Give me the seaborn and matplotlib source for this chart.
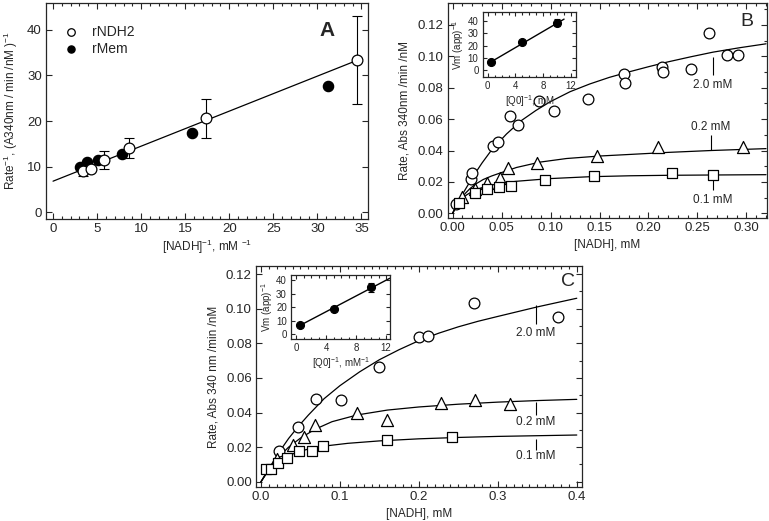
import numpy as np
import pandas as pd
import seaborn as sns
import matplotlib
matplotlib.use("Agg")
import matplotlib.pyplot as plt
from matplotlib.ticker import MultipleLocator, FormatStrFormatter

# ---- panel A : double reciprocal ----
a_ndh2_x = [3.41, 4.28, 5.76, 8.6, 17.32, 34.47]
a_ndh2_y = [9.08, 9.45, 11.43, 14.13, 20.59, 33.4]
a_ndh2_err = [1.1, 0.0, 2.0, 2.25, 4.35, 9.7]
a_mem_x = [3.03, 3.87, 5.11, 7.84, 15.72, 31.25]
a_mem_y = [9.96, 11.06, 11.43, 12.68, 17.3, 27.7]
a_fit_x = [0.0, 34.1]
a_fit_y = [6.8, 33.0]

# ---- panel B ----
b20_x = [0.003, 0.019, 0.020, 0.0414, 0.0459, 0.0585, 0.0663, 0.0881, 0.1034, 0.1384,
         0.1748, 0.1758, 0.2133, 0.2149, 0.2439, 0.2619, 0.280, 0.2915]
b20_y = [0.006, 0.0217, 0.0259, 0.0429, 0.0456, 0.062, 0.0563, 0.0716, 0.0654, 0.0727,
         0.0886, 0.0832, 0.093, 0.0902, 0.0918, 0.1147, 0.1009, 0.1009]
b02_x = [0.0092, 0.0228, 0.0347, 0.0483, 0.0568, 0.0864, 0.1476, 0.2098, 0.2965]
b02_y = [0.0106, 0.0153, 0.0195, 0.0223, 0.0287, 0.0319, 0.0365, 0.0425, 0.0421]
b01_x = [0.0068, 0.0228, 0.0353, 0.0476, 0.0592, 0.0942, 0.1442, 0.2235, 0.266]
b01_y = [0.0064, 0.0127, 0.0155, 0.0166, 0.0176, 0.0212, 0.024, 0.0255, 0.0246]

b20_fit_x = [0, 0.005, 0.01, 0.015, 0.02, 0.025, 0.03, 0.04, 0.055, 0.07, 0.085, 0.10, 0.12,
             0.14, 0.16, 0.18, 0.20, 0.22, 0.243, 0.266, 0.293, 0.32]
b20_fit_y = [0, 0.0062, 0.012, 0.0173, 0.0225, 0.0273, 0.032, 0.0405, 0.0505, 0.059, 0.0655,
             0.0712, 0.0775, 0.0824, 0.0866, 0.0901, 0.0934, 0.0965, 0.0997, 0.1027, 0.1055, 0.108]
b02_fit_x = [0, 0.004, 0.0085, 0.013, 0.0177, 0.024, 0.0312, 0.04, 0.0483, 0.0653, 0.0891,
             0.1163, 0.1503, 0.181, 0.22, 0.264, 0.32]
b02_fit_y = [0, 0.0048, 0.0090, 0.0127, 0.0157, 0.0188, 0.0215, 0.0238, 0.0256, 0.0292, 0.0326,
             0.0349, 0.0365, 0.0375, 0.0388, 0.0400, 0.0412]
b01_fit_x = [0, 0.0057, 0.01, 0.0143, 0.02, 0.0279, 0.036, 0.0449, 0.0653, 0.0993, 0.14, 0.181,
             0.22, 0.266, 0.32]
b01_fit_y = [0, 0.0064, 0.0095, 0.0117, 0.0139, 0.0159, 0.0174, 0.0187, 0.0204, 0.0221, 0.0233,
             0.0239, 0.0242, 0.0244, 0.0246]

bi_x = [0.5, 5.0, 10.0]
bi_y = [7.0, 22.5, 38.5]
bi_err = [0.0, 0.0, 3.0]
bi_fit_x = [0.5, 11.0]
bi_fit_y = [6.9, 41.3]

# ---- panel C ----
c20_x = [0.0228, 0.047, 0.0697, 0.1018, 0.149, 0.2, 0.211, 0.27, 0.376]
c20_y = [0.0177, 0.0314, 0.0476, 0.0472, 0.066, 0.0834, 0.0844, 0.1034, 0.0953]
c02_x = [0.02, 0.041, 0.0545, 0.068, 0.122, 0.159, 0.228, 0.271, 0.3155]
c02_y = [0.0132, 0.0213, 0.026, 0.0327, 0.0399, 0.0356, 0.0456, 0.0472, 0.0449]
c01_x = [0.0065, 0.0128, 0.0215, 0.033, 0.048, 0.065, 0.078, 0.159, 0.2415]
c01_y = [0.0073, 0.0073, 0.0106, 0.0135, 0.0175, 0.0179, 0.0208, 0.0241, 0.0256]

c20_fit_x = [0, 0.01, 0.0228, 0.035, 0.047, 0.06, 0.08, 0.1, 0.125, 0.15, 0.175, 0.2, 0.225,
             0.25, 0.275, 0.3, 0.35, 0.4]
c20_fit_y = [0, 0.0075, 0.017, 0.025, 0.0318, 0.0385, 0.048, 0.0555, 0.0635, 0.0705, 0.0763,
             0.0815, 0.0858, 0.0895, 0.0927, 0.0955, 0.101, 0.106]
c02_fit_x = [0, 0.01, 0.02, 0.035, 0.05, 0.068, 0.09, 0.122, 0.16, 0.2, 0.25, 0.3, 0.35, 0.4]
c02_fit_y = [0, 0.0075, 0.0132, 0.02, 0.0252, 0.0302, 0.0347, 0.0386, 0.0414, 0.0432, 0.0448,
             0.046, 0.0469, 0.0476]
c01_fit_x = [0, 0.01, 0.02, 0.03, 0.045, 0.06, 0.08, 0.11, 0.15, 0.2, 0.25, 0.3, 0.35, 0.4]
c01_fit_y = [0, 0.0068, 0.011, 0.014, 0.017, 0.0189, 0.0206, 0.0222, 0.0236, 0.0248, 0.0256,
             0.0262, 0.0266, 0.027]

ci_x = [0.5, 5.0, 10.0]
ci_y = [6.5, 18.5, 34.5]
ci_err = [0.0, 0.0, 3.0]
ci_fit_x = [0.5, 12.5]
ci_fit_y = [6.3, 41.3]

sns.set_style("ticks")
plt.rcParams['font.family'] = ['Liberation Sans', 'DejaVu Sans']
plt.rcParams['mathtext.default'] = 'regular'
plt.rcParams['axes.linewidth'] = 0.9

W, H = 769, 521
fig = plt.figure(figsize=(W / 100, H / 100), dpi=100)


def rect(l, t, r, b):
    return [l / W, 1 - b / H, (r - l) / W, (b - t) / H]


def style(ax, tsize=9.5):
    ax.tick_params(which='both', direction='in', top=True, right=True,
                   labelsize=tsize, width=0.8, pad=3)
    ax.tick_params(which='major', length=4)
    ax.tick_params(which='minor', length=2.2)


def curve(ax, x, y, lw=0.9):
    sns.lineplot(x=x, y=y, ax=ax, color='black', lw=lw, sort=False,
                 estimator=None, zorder=2)


def pts(ax, x, y, marker, s, fill='white', lw=0.9, label=None):
    sns.scatterplot(x=x, y=y, ax=ax, marker=marker, s=s, color=fill,
                    edgecolor='black', linewidth=lw, zorder=4, label=label,
                    legend=False if label is None else 'auto')


# ================= A =================
axA = fig.add_axes(rect(46, 3, 368, 219))
curve(axA, a_fit_x, a_fit_y)
axA.errorbar(a_ndh2_x, a_ndh2_y, yerr=a_ndh2_err, fmt='none', ecolor='black',
             elinewidth=0.8, capsize=3.5, capthick=0.8, zorder=3)
pts(axA, a_mem_x, a_mem_y, 'o', 55, fill='black', label='rMem')
pts(axA, a_ndh2_x, a_ndh2_y, 'o', 60, fill='white', label='rNDH2')
axA.set_xlim(-0.8, 35.75)
axA.set_ylim(-1.5, 45.9)
axA.xaxis.set_major_locator(MultipleLocator(5))
axA.xaxis.set_minor_locator(MultipleLocator(1))
axA.yaxis.set_major_locator(MultipleLocator(10))
style(axA, 9.5)
axA.set_xlabel('[NADH]$^{-1}$, mM $^{-1}$', fontsize=8.5, labelpad=2)
axA.set_ylabel('Rate$^{-1}$, (A340nm / min /nM )$^{-1}$', fontsize=8.5, labelpad=5)
h, l = axA.get_legend_handles_labels()
axA.legend(h[::-1], l[::-1], loc='upper left', bbox_to_anchor=(0.04, 0.925),
           frameon=False, fontsize=10, handlelength=1.0, handletextpad=1.0,
           labelspacing=0.2, markerscale=0.7, borderaxespad=0)
axA.text(0.873, 0.875, 'A', transform=axA.transAxes, fontsize=15,
         fontweight='bold', ha='center', va='center')

# ================= B =================
axB = fig.add_axes(rect(447.7, 2.7, 767, 218.3))
curve(axB, b20_fit_x, b20_fit_y)
curve(axB, b02_fit_x, b02_fit_y)
curve(axB, b01_fit_x, b01_fit_y)
pts(axB, b20_x, b20_y, 'o', 60)
pts(axB, b02_x, b02_y, '^', 75)
pts(axB, b01_x, b01_y, 's', 42)
axB.set_xlim(-0.005, 0.321)
axB.set_ylim(-0.0032, 0.1342)
axB.xaxis.set_major_locator(MultipleLocator(0.05))
axB.xaxis.set_minor_locator(MultipleLocator(0.01))
axB.yaxis.set_major_locator(MultipleLocator(0.02))
axB.yaxis.set_minor_locator(MultipleLocator(0.01))
axB.xaxis.set_major_formatter(FormatStrFormatter('%.2f'))
axB.yaxis.set_major_formatter(FormatStrFormatter('%.2f'))
style(axB)
axB.tick_params(which='minor', axis='y', left=False)
axB.set_xlabel('[NADH], mM', fontsize=8.5, labelpad=3)
axB.set_ylabel('Rate, Abs 340nm /min /nM', fontsize=8.5, labelpad=5)
axB.text(0.936, 0.912, 'B', transform=axB.transAxes, fontsize=14,
         ha='center', va='center')
axB.vlines(0.266, 0.088, 0.0994, color='black', lw=0.8)
axB.text(0.266, 0.0818, '2.0 mM', fontsize=8.5, ha='center', va='center')
axB.vlines(0.2636, 0.0404, 0.0499, color='black', lw=0.8)
axB.text(0.2636, 0.0552, '0.2 mM', fontsize=8.5, ha='center', va='center')
axB.vlines(0.266, 0.0149, 0.0238, color='black', lw=0.8)
axB.text(0.266, 0.0085, '0.1 mM', fontsize=8.5, ha='center', va='center')

axBi = fig.add_axes(rect(482.7, 12.3, 576, 77.3))
curve(axBi, bi_fit_x, bi_fit_y, lw=1.0)
axBi.errorbar(bi_x, bi_y, yerr=bi_err, fmt='none', ecolor='black',
              elinewidth=0.8, capsize=2, capthick=0.8, zorder=3)
pts(axBi, bi_x, bi_y, 'o', 32, fill='black')
axBi.set_xlim(-0.72, 12.72)
axBi.set_ylim(-5.6, 46.8)
axBi.xaxis.set_major_locator(MultipleLocator(4))
axBi.xaxis.set_minor_locator(MultipleLocator(1))
axBi.yaxis.set_major_locator(MultipleLocator(10))
style(axBi, 7)
axBi.tick_params(which='major', length=3)
axBi.tick_params(which='minor', length=1.8)
axBi.set_xlabel('[Q0]$^{-1}$, mM', fontsize=7, labelpad=1)
axBi.set_ylabel('Vm (app)$^{-1}$', fontsize=7, labelpad=1)

# ================= C =================
axC = fig.add_axes(rect(256, 265.7, 582.3, 487.3))
curve(axC, c20_fit_x, c20_fit_y)
curve(axC, c02_fit_x, c02_fit_y)
curve(axC, c01_fit_x, c01_fit_y)
pts(axC, c20_x, c20_y, 'o', 60)
pts(axC, c02_x, c02_y, '^', 75)
pts(axC, c01_x, c01_y, 's', 42)
axC.set_xlim(-0.0063, 0.407)
axC.set_ylim(-0.0032, 0.1248)
axC.xaxis.set_major_locator(MultipleLocator(0.1))
axC.xaxis.set_minor_locator(MultipleLocator(0.01))
axC.yaxis.set_major_locator(MultipleLocator(0.02))
axC.yaxis.set_minor_locator(MultipleLocator(0.01))
axC.xaxis.set_major_formatter(FormatStrFormatter('%.1f'))
axC.yaxis.set_major_formatter(FormatStrFormatter('%.2f'))
style(axC)
axC.tick_params(which='minor', axis='y', left=False)
axC.set_xlabel('[NADH], mM', fontsize=8.5, labelpad=3)
axC.set_ylabel('Rate, Abs 340 nm /min /nM', fontsize=8.5, labelpad=5)
axC.text(0.956, 0.928, 'C', transform=axC.transAxes, fontsize=14,
         ha='center', va='center')
axC.vlines(0.3485, 0.0911, 0.1021, color='black', lw=0.8)
axC.text(0.3485, 0.0857, '2.0 mM', fontsize=8.5, ha='center', va='center')
axC.vlines(0.3485, 0.0385, 0.0462, color='black', lw=0.8)
axC.text(0.3485, 0.0347, '0.2 mM', fontsize=8.5, ha='center', va='center')
axC.vlines(0.3485, 0.0183, 0.0247, color='black', lw=0.8)
axC.text(0.3485, 0.015, '0.1 mM', fontsize=8.5, ha='center', va='center')

axCi = fig.add_axes(rect(291, 275.3, 390, 339.3))
curve(axCi, ci_fit_x, ci_fit_y, lw=1.0)
axCi.errorbar(ci_x, ci_y, yerr=ci_err, fmt='none', ecolor='black',
              elinewidth=0.8, capsize=2, capthick=0.8, zorder=3)
pts(axCi, ci_x, ci_y, 'o', 32, fill='black')
axCi.set_xlim(-0.67, 12.53)
axCi.set_ylim(-3.9, 43.5)
axCi.xaxis.set_major_locator(MultipleLocator(4))
axCi.xaxis.set_minor_locator(MultipleLocator(1))
axCi.yaxis.set_major_locator(MultipleLocator(10))
style(axCi, 7)
axCi.tick_params(which='major', length=3)
axCi.tick_params(which='minor', length=1.8)
axCi.set_xlabel('[Q0]$^{-1}$, mM$^{-1}$', fontsize=7, labelpad=1)
axCi.set_ylabel('Vm (app)$^{-1}$', fontsize=7, labelpad=1)

fig.savefig('out.png', dpi=100)
